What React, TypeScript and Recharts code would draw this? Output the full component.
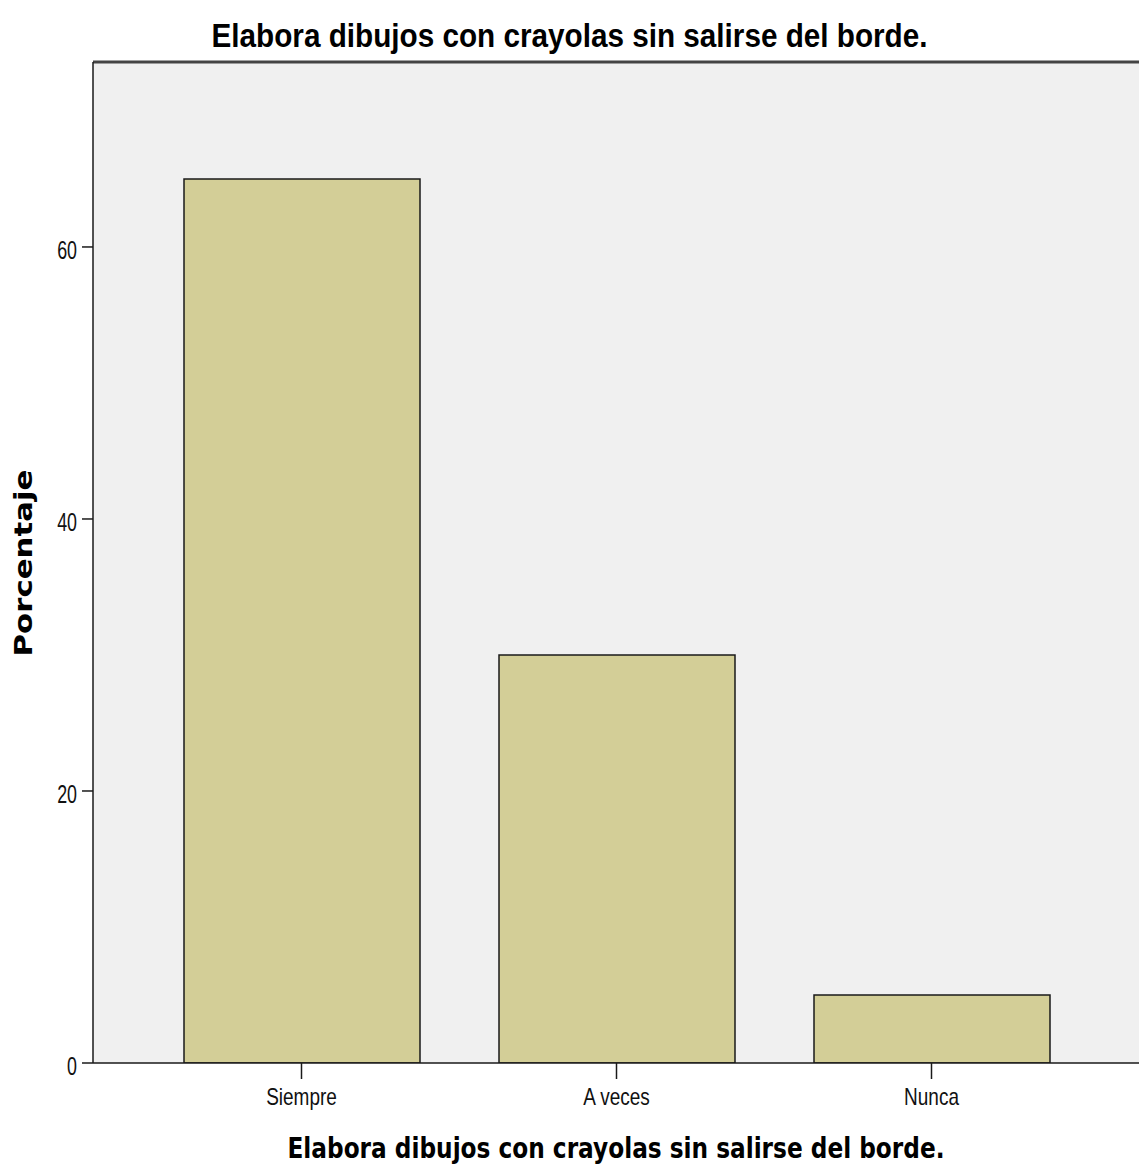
import { BarChart, Bar, XAxis, YAxis, CartesianGrid, ReferenceLine } from 'recharts';

const categories = ['Siempre', 'A veces', 'Nunca'];
const percentages = [65, 30, 5];
const yTicks = [0, 20, 40, 60];
const yMax = 73.6;
const title = 'Elabora dibujos con crayolas sin salirse del borde.';
const xTitle = 'Elabora dibujos con crayolas sin salirse del borde.';
const yTitle = 'Porcentaje';

const data = categories.map((name, i) => ({ name, value: percentages[i] }));

const W = 1139;
const H = 1175;
const narrow = '"Liberation Sans Narrow", "Arial Narrow", "Liberation Sans", Arial, sans-serif';
const wide = '"DejaVu Sans", Verdana, sans-serif';

// the source picture is stretched vertically, so the small labels are squeezed a bit
function XTick(props: any) {
  const { x, y, payload } = props;
  return (
    <text
      transform={`translate(${x}, ${y}) scale(0.95, 1.15)`}
      dy="0.71em"
      textAnchor="middle"
      fill="#111"
      fontFamily={narrow}
      fontSize={20}
    >
      {payload.value}
    </text>
  );
}

function YTick(props: any) {
  const { x, y, payload } = props;
  return (
    <text
      transform={`translate(${x}, ${y + 3}) scale(0.85, 1.2)`}
      dy="0.36em"
      textAnchor="end"
      fill="#111"
      fontFamily={narrow}
      fontSize={21}
    >
      {payload.value}
    </text>
  );
}

export default function App() {
  return (
    <div style={{ position: 'absolute', left: 0, top: 0, width: W, height: H, background: '#fff' }}>
      <BarChart width={W} height={H} data={data} margin={{ top: 62, right: 0, bottom: 0, left: 0 }}>
        <CartesianGrid horizontal={false} vertical={false} fill="#f0f0f0" stroke="none" />
        <XAxis
          dataKey="name"
          height={112}
          padding={{ left: 51, right: 50 }}
          axisLine={{ stroke: '#1a1a1a', strokeWidth: 1.5 }}
          tickLine={{ stroke: '#1a1a1a', strokeWidth: 1.5 }}
          tickSize={16}
          tickMargin={10}
          tick={<XTick />}
          label={{
            content: () => (
              <text
                x={616}
                y={1158}
                textAnchor="middle"
                fontFamily={wide}
                fontWeight="bold"
                fontSize={28}
                textLength={657}
                lengthAdjust="spacingAndGlyphs"
                fill="#000"
              >
                {xTitle}
              </text>
            ),
          }}
        />
        <YAxis
          width={93}
          domain={[0, yMax]}
          ticks={yTicks}
          allowDataOverflow
          axisLine={{ stroke: '#1a1a1a', strokeWidth: 1.5 }}
          tickLine={{ stroke: '#1a1a1a', strokeWidth: 1.5 }}
          tickSize={11}
          tickMargin={5}
          tick={<YTick />}
          label={{
            content: () => (
              <text
                x={0}
                y={0}
                transform="translate(32, 563) rotate(-90)"
                textAnchor="middle"
                fontFamily={wide}
                fontWeight="bold"
                fontSize={24}
                textLength={187}
                lengthAdjust="spacingAndGlyphs"
                fill="#000"
              >
                {yTitle}
              </text>
            ),
          }}
        />
        <ReferenceLine y={yMax} stroke="#444" strokeWidth={3} />
        <Bar dataKey="value" fill="#d3ce97" stroke="#1a1a1a" strokeWidth={1.5} barSize={236} isAnimationActive={false} />
      </BarChart>
      <svg width={W} height={60} style={{ position: 'absolute', left: 0, top: 0 }}>
        <text
          x={W / 2}
          y={47}
          textAnchor="middle"
          fontFamily='"Liberation Sans", Arial, sans-serif'
          fontWeight="bold"
          fontSize={34}
          textLength={716}
          lengthAdjust="spacingAndGlyphs"
          fill="#000"
        >
          {title}
        </text>
      </svg>
    </div>
  );
}
